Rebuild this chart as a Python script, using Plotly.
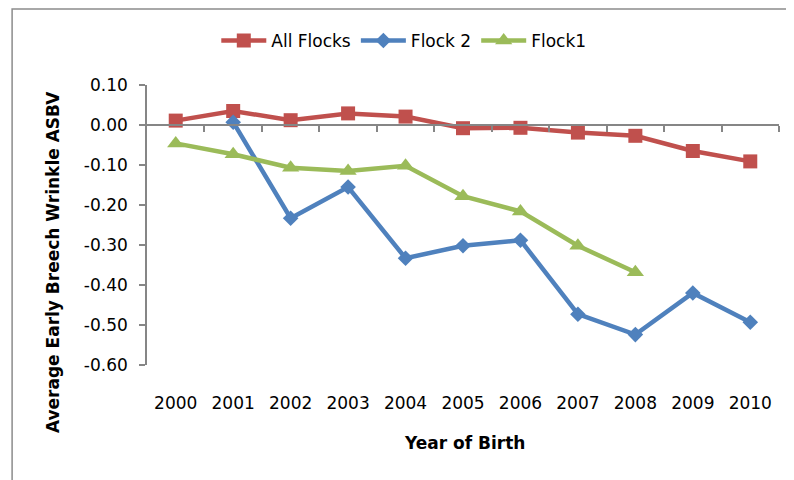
import plotly.graph_objects as go

years = ["2000", "2001", "2002", "2003", "2004", "2005", "2006", "2007", "2008", "2009", "2010"]
all_flocks = [0.011, 0.035, 0.012, 0.029, 0.021, -0.008, -0.007, -0.019, -0.027, -0.065, -0.091]
flock2 = [None, 0.007, -0.233, -0.155, -0.333, -0.302, -0.288, -0.473, -0.524, -0.420, -0.493]
flock1 = [-0.046, -0.073, -0.107, -0.115, -0.102, -0.178, -0.216, -0.302, -0.368, None, None]

ytick_vals = [0.10, 0.00, -0.10, -0.20, -0.30, -0.40, -0.50, -0.60]
ytick_text = ["0.10", "0.00", "-0.10", "-0.20", "-0.30", "-0.40", "-0.50", "-0.60"]

RED = "#C0504D"
BLUE = "#4F81BD"
GREEN = "#9BBB59"
AXIS = "#868686"
FONT = "DejaVu Sans"

# page body offsets the figure by 8px; work in figure coordinates
OFF = 8
PL, PR, PT, PB = 147 - OFF, 779.5 - OFF, 85 - OFF, 365 - OFF  # plot area in fig px
W, H = 794, 480
PW, PH = PR - PL, PB - PT


def px_x(sx):
    return (sx - OFF - PL) / PW


def px_y(sy):
    return (PB - (sy - OFF)) / PH


fig = go.Figure()
fig.add_trace(go.Scatter(x=years, y=all_flocks, name="All Flocks", mode="lines+markers",
                         line=dict(color=RED, width=4.5),
                         marker=dict(symbol="square", size=14, color=RED)))
fig.add_trace(go.Scatter(x=years, y=flock2, name="Flock 2", mode="lines+markers",
                         line=dict(color=BLUE, width=4.5),
                         marker=dict(symbol="diamond", size=12, color=BLUE)))
fig.add_trace(go.Scatter(x=years, y=flock1, name="Flock1", mode="lines+markers",
                         line=dict(color=GREEN, width=4.5),
                         marker=dict(symbol="triangle-up", size=15, color=GREEN)))

n = len(years)
fig.update_layout(
    width=W, height=H,
    margin=dict(l=PL, r=W - PR, t=PT, b=H - PB, autoexpand=False),
    paper_bgcolor="white", plot_bgcolor="white",
    font=dict(family=FONT, size=17, color="black"),
    showlegend=True,
    legend=dict(orientation="h", x=px_x(404), xanchor="center", y=px_y(41), yanchor="middle",
                font=dict(family=FONT, size=17, color="black"), itemwidth=45,
                bgcolor="rgba(0,0,0,0)"),
    xaxis=dict(type="category", categoryorder="array", categoryarray=years,
               range=[-0.5, n - 0.5], showline=False, showgrid=False, zeroline=False,
               ticks="", ticklabelstandoff=26,
               tickfont=dict(family=FONT, size=17, color="black")),
    xaxis2=dict(overlaying="x", anchor="free", position=0.6 / 0.7,
                range=[-0.5, n - 0.5], showline=True, linecolor=AXIS, linewidth=1.5,
                ticks="outside", ticklen=6, tickcolor=AXIS, tickwidth=1.5,
                tickmode="array", tickvals=[i + 0.5 for i in range(n)],
                showticklabels=False, showgrid=False, zeroline=False, side="bottom"),
    yaxis=dict(range=[-0.6, 0.1], tickmode="array", tickvals=ytick_vals, ticktext=ytick_text,
               showline=True, linecolor=AXIS, linewidth=1.5, ticks="outside", ticklen=6,
               tickcolor=AXIS, tickwidth=1.5, showgrid=False, zeroline=False,
               ticklabelstandoff=8,
               tickfont=dict(family=FONT, size=17, color="black")),
)

# invisible trace to activate xaxis2
fig.add_trace(go.Scatter(x=[0], y=[0], xaxis="x2", yaxis="y", mode="markers",
                         marker=dict(opacity=0), showlegend=False, hoverinfo="skip"))

fig.add_annotation(text="<b>Average Early Breech Wrinkle ASBV</b>", xref="paper", yref="paper",
                   x=px_x(53), y=px_y(262), xanchor="center", yanchor="middle",
                   textangle=-90, showarrow=False,
                   font=dict(family=FONT, size=17, color="black"))
fig.add_annotation(text="<b>Year of Birth</b>", xref="paper", yref="paper",
                   x=px_x(465), y=px_y(443), xanchor="center", yanchor="middle",
                   showarrow=False,
                   font=dict(family=FONT, size=17, color="black"))

# outer chart border (partially visible)
fig.add_shape(type="rect", xref="paper", yref="paper",
              x0=px_x(12), x1=1.3, y0=-0.7, y1=px_y(9),
              line=dict(color="#8c8c8c", width=1.5), fillcolor="rgba(0,0,0,0)", layer="below")

fig.write_html("out.html")
